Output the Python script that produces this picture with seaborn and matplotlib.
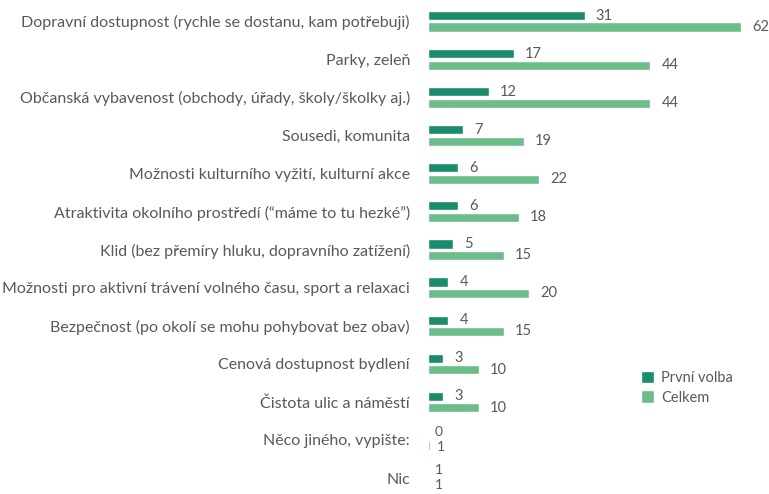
import pandas as pd
import matplotlib.pyplot as plt
import seaborn as sns

sns.set_theme(style="white")
plt.rcParams['font.family'] = ['Lato', 'DejaVu Sans']

categories = [
    "Dopravní dostupnost (rychle se dostanu, kam potřebuji)",
    "Parky, zeleň",
    "Občanská vybavenost (obchody, úřady, školy/školky aj.)",
    "Sousedi, komunita",
    "Možnosti kulturního vyžití, kulturní akce",
    "Atraktivita okolního prostředí (\u201cmáme to tu hezké\u201d)",
    "Klid (bez přemíry hluku, dopravního zatížení)",
    "Možnosti pro aktivní trávení volného času, sport a relaxaci",
    "Bezpečnost (po okolí se mohu pohybovat bez obav)",
    "Cenová dostupnost bydlení",
    "Čistota ulic a náměstí",
    "Něco jiného, vypište:",
    "Nic",
]
# bar lengths (small ones are below 1)
first_choice = [31, 17, 12, 7, 6, 6, 5, 4, 4, 3, 3, 0, 0]
total = [62, 44, 44, 19, 22, 18, 15, 20, 15, 10, 10, 0.3, 0]
# data labels as printed
first_labels = ["31", "17", "12", "7", "6", "6", "5", "4", "4", "3", "3", "0", "1"]
total_labels = ["62", "44", "44", "19", "22", "18", "15", "20", "15", "10", "10", "1", "1"]

series = ["První volba", "Celkem"]
colors = ["#1a8c6b", "#6cbd8a"]
text_grey = "#595959"

df = pd.DataFrame({
    "kategorie": categories * 2,
    "hodnota": first_choice + total,
    "serie": [series[0]] * len(categories) + [series[1]] * len(categories),
})

fig = plt.figure(figsize=(7.69, 4.94), dpi=100)
ax = fig.add_axes([428 / 769, 0, 1 - 428 / 769, 1])

sns.barplot(data=df, x="hodnota", y="kategorie", hue="serie",
            palette=colors, saturation=1, width=0.6, gap=0.2,
            ax=ax, legend=True)

first_texts = ax.bar_label(ax.containers[0], labels=first_labels, padding=8,
                           color=text_grey, fontsize=10.5)
total_texts = ax.bar_label(ax.containers[1], labels=total_labels, padding=8,
                           color=text_grey, fontsize=10.5)

# the zero-length rows have their labels crammed together; spread them apart
for i in range(len(categories)):
    if first_choice[i] < 1 and total[i] < 1:
        first_texts[i].xyann = (5, 1.5)
        total_texts[i].xyann = (5, -1.0)
        first_texts[i].set_fontsize(10)
        total_texts[i].set_fontsize(10)

ax.set_xlim(0, 67.5)
ax.set_ylim(12.42, -0.56)
ax.set_xlabel("")
ax.set_ylabel("")
ax.set_xticks([])
ax.tick_params(axis="y", length=0, pad=13, labelsize=11.5,
               labelcolor=text_grey)
sns.despine(ax=ax, left=True, bottom=True)

ax.legend(loc="upper left", bbox_to_anchor=(0.585, 0.275), frameon=False,
          fontsize=10.5, labelcolor=text_grey, handlelength=0.9,
          handleheight=0.9, handletextpad=0.5, labelspacing=0.35)

fig.savefig("out.png", dpi=100)
